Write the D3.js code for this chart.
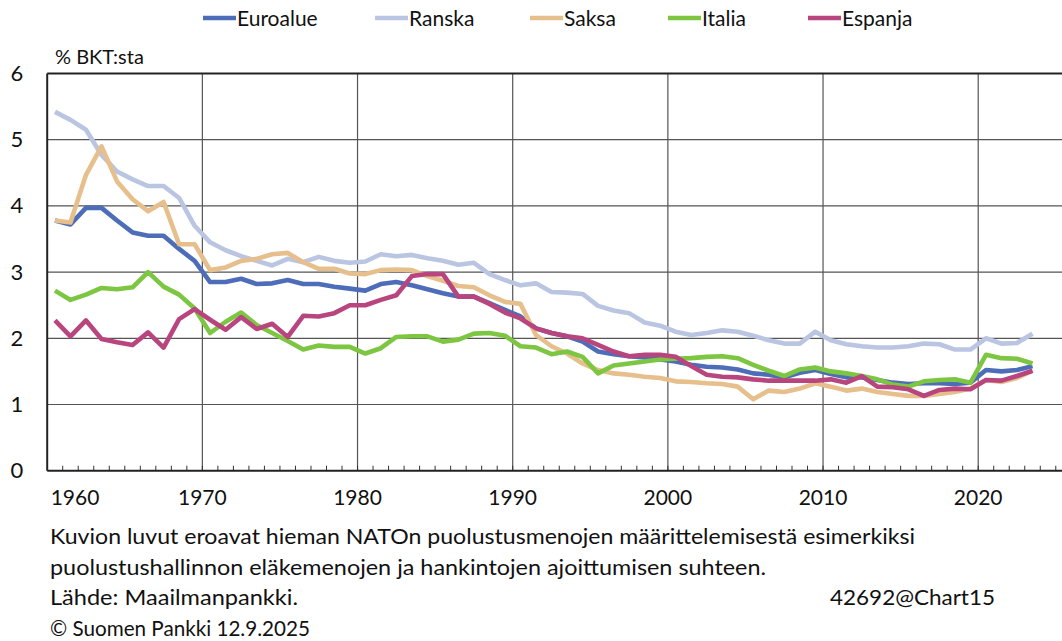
<!DOCTYPE html>
<html>
<head>
<meta charset="utf-8">
<script src="https://cdn.jsdelivr.net/npm/d3@7"></script>
<style>
  body { margin: 0; background: #fff; }
  text { font-family: Lato, "Open Sans", sans-serif; fill: #111; }
</style>
</head>
<body>
<script>
let width = 1062;
let height = 641;

let firstYear = 1960;
let seriesNames = ["Euroalue", "Ranska", "Saksa", "Italia", "Espanja"];
let seriesColors = ["#4e6db8", "#bac5e2", "#e6bf8c", "#7dc642", "#b8457d"];

let euroalue = [3.78, 3.72, 3.97, 3.97, 3.78, 3.6, 3.55, 3.55, 3.35, 3.17,
  2.85, 2.85, 2.9, 2.82, 2.83, 2.88, 2.82, 2.82, 2.78, 2.75,
  2.72, 2.82, 2.85, 2.8, 2.74, 2.68, 2.63, 2.63, 2.53, 2.43,
  2.33, 2.15, 2.08, 2.03, 1.95, 1.8, 1.76, 1.73, 1.71, 1.68,
  1.65, 1.6, 1.57, 1.56, 1.53, 1.47, 1.45, 1.41, 1.48, 1.52,
  1.46, 1.41, 1.41, 1.37, 1.33, 1.31, 1.32, 1.32, 1.31, 1.33,
  1.52, 1.5, 1.52, 1.58];
let ranska = [5.42, 5.3, 5.15, 4.77, 4.52, 4.4, 4.3, 4.3, 4.12, 3.7,
  3.45, 3.33, 3.24, 3.17, 3.1, 3.2, 3.15, 3.23, 3.17, 3.14,
  3.16, 3.27, 3.24, 3.26, 3.21, 3.17, 3.11, 3.14, 2.97, 2.88,
  2.8, 2.83, 2.7, 2.69, 2.67, 2.49, 2.42, 2.38, 2.24, 2.19,
  2.1, 2.05, 2.08, 2.12, 2.1, 2.04, 1.97, 1.92, 1.92, 2.1,
  1.97, 1.91, 1.88, 1.86, 1.86, 1.88, 1.92, 1.91, 1.83, 1.83,
  2.0, 1.92, 1.93, 2.07];
let saksa = [3.78, 3.75, 4.47, 4.9, 4.37, 4.1, 3.92, 4.06, 3.42, 3.42,
  3.03, 3.07, 3.17, 3.2, 3.27, 3.29, 3.15, 3.05, 3.05, 2.98,
  2.97, 3.03, 3.04, 3.03, 2.94, 2.87, 2.79, 2.77, 2.65, 2.55,
  2.52, 2.05, 1.88, 1.77, 1.62, 1.52, 1.47, 1.45, 1.42, 1.4,
  1.35, 1.34, 1.32, 1.31, 1.27, 1.08, 1.21, 1.19, 1.24, 1.32,
  1.27, 1.21, 1.24, 1.19, 1.16, 1.13, 1.13, 1.16, 1.19, 1.24,
  1.37, 1.34, 1.4, 1.51];
let italia = [2.72, 2.58, 2.66, 2.76, 2.74, 2.77, 3.0, 2.78, 2.66, 2.45,
  2.08, 2.25, 2.39, 2.2, 2.08, 1.96, 1.83, 1.89, 1.87, 1.87,
  1.77, 1.85, 2.02, 2.03, 2.03, 1.95, 1.98, 2.07, 2.08, 2.04,
  1.88, 1.86, 1.76, 1.8, 1.72, 1.47, 1.59, 1.62, 1.65, 1.68,
  1.69, 1.7, 1.72, 1.73, 1.7, 1.6, 1.51, 1.43, 1.53, 1.56,
  1.5, 1.47, 1.43, 1.38, 1.3, 1.27, 1.35, 1.37, 1.38, 1.33,
  1.75, 1.7, 1.69, 1.62];
let espanja = [2.27, 2.03, 2.27, 1.99, 1.94, 1.9, 2.09, 1.86, 2.29, 2.44,
  2.28, 2.13, 2.32, 2.14, 2.22, 2.02, 2.34, 2.33, 2.38, 2.5,
  2.5, 2.58, 2.65, 2.94, 2.97, 2.97, 2.63, 2.63, 2.52, 2.39,
  2.3, 2.15, 2.08, 2.03, 2.0, 1.9, 1.8, 1.73, 1.75, 1.75,
  1.72, 1.58, 1.45, 1.42, 1.41, 1.38, 1.36, 1.36, 1.36, 1.36,
  1.38, 1.33, 1.43, 1.27, 1.26, 1.23, 1.13, 1.22, 1.24, 1.23,
  1.37, 1.36, 1.43, 1.51];
let seriesValues = [euroalue, ranska, saksa, italia, espanja];

let yTicks = [0, 1, 2, 3, 4, 5, 6];
let xLabels = [1960, 1970, 1980, 1990, 2000, 2010, 2020];
let unitLabel = "% BKT:sta";
let noteLines = [
  "Kuvion luvut eroavat hieman NATOn puolustusmenojen määrittelemisestä esimerkiksi",
  "puolustushallinnon eläkemenojen ja hankintojen ajoittumisen suhteen.",
  "Lähde: Maailmanpankki.",
  "© Suomen Pankki 12.9.2025"
];
// widths of the note lines as they appear in the original
let noteWidths = [865, 716, 248, 260];
let chartCode = "42692@Chart15";

let plotLeft = 47.2;
let plotRight = 1062;
let plotTop = 73.5;
let plotBottom = 470.7;
let lineWidth = 4.6;
let gridColor = "#555";

let svg = d3.select("body").append("svg")
  .attr("width", width)
  .attr("height", height);

let x = d3.scaleLinear().domain([1960, 2025.4]).range([plotLeft, plotRight]);
let y = d3.scaleLinear().domain([0, 6]).range([plotBottom, plotTop]);

// horizontal gridlines
svg.append("g")
  .selectAll("line")
  .data(yTicks.filter(d => d > 0 && d < 6))
  .enter()
  .append("line")
  .attr("x1", plotLeft)
  .attr("x2", plotRight)
  .attr("y1", d => y(d))
  .attr("y2", d => y(d))
  .attr("stroke", gridColor)
  .attr("stroke-width", 1.2);

// vertical gridlines at decades
svg.append("g")
  .selectAll("line")
  .data(xLabels.slice(1))
  .enter()
  .append("line")
  .attr("x1", d => x(d))
  .attr("x2", d => x(d))
  .attr("y1", plotTop)
  .attr("y2", plotBottom)
  .attr("stroke", gridColor)
  .attr("stroke-width", 1.2);

// yearly minor ticks, pointing up
let years = d3.range(1961, 2026);
svg.append("g")
  .selectAll("line")
  .data(years)
  .enter()
  .append("line")
  .attr("x1", d => x(d))
  .attr("x2", d => x(d))
  .attr("y1", plotBottom)
  .attr("y2", plotBottom - 5)
  .attr("stroke", "#333")
  .attr("stroke-width", 1);

// frame: top, left, bottom
svg.append("line")
  .attr("x1", plotLeft).attr("x2", plotRight)
  .attr("y1", plotTop).attr("y2", plotTop)
  .attr("stroke", "#222").attr("stroke-width", 2);
svg.append("line")
  .attr("x1", plotLeft).attr("x2", plotLeft)
  .attr("y1", plotTop).attr("y2", plotBottom)
  .attr("stroke", "#222").attr("stroke-width", 2);
svg.append("line")
  .attr("x1", plotLeft).attr("x2", plotRight)
  .attr("y1", plotBottom).attr("y2", plotBottom)
  .attr("stroke", "#222").attr("stroke-width", 2);

// series lines
let line = d3.line()
  .x((d, i) => x(firstYear + i + 0.5))
  .y(d => y(d));

svg.append("g")
  .selectAll("path")
  .data(seriesValues)
  .enter()
  .append("path")
  .attr("d", line)
  .attr("fill", "none")
  .attr("stroke", (d, i) => seriesColors[i])
  .attr("stroke-width", lineWidth)
  .attr("stroke-linejoin", "round");

// y tick labels
svg.append("g")
  .selectAll("text")
  .data(yTicks)
  .enter()
  .append("text")
  .attr("x", 17)
  .attr("y", d => y(d) + 7.5)
  .attr("text-anchor", "middle")
  .style("font-size", "22px")
  .text(d => d);

// x labels
svg.append("g")
  .selectAll("text")
  .data(xLabels)
  .enter()
  .append("text")
  .attr("x", d => (d === 1960 ? 75 : x(d)))
  .attr("y", 505)
  .attr("text-anchor", "middle")
  .style("font-size", "21px")
  .text(d => d);

svg.append("text")
  .attr("x", 55)
  .attr("y", 64)
  .style("font-size", "20px")
  .text(unitLabel);

// legend
let legendX = [203, 375, 530, 668, 808];
let legend = svg.append("g")
  .selectAll("g")
  .data(seriesNames)
  .enter()
  .append("g")
  .attr("transform", (d, i) => "translate(" + legendX[i] + ",18)");
legend.append("line")
  .attr("x1", 0).attr("x2", 33)
  .attr("y1", 0).attr("y2", 0)
  .attr("stroke", (d, i) => seriesColors[i])
  .attr("stroke-width", lineWidth);
legend.append("text")
  .attr("x", 34)
  .attr("y", 7.5)
  .style("font-size", "21px")
  .text(d => d);

// notes
svg.append("g")
  .selectAll("text")
  .data(noteLines)
  .enter()
  .append("text")
  .attr("x", 50)
  .attr("y", (d, i) => 544 + i * 30.5)
  .attr("textLength", (d, i) => noteWidths[i])
  .attr("lengthAdjust", "spacingAndGlyphs")
  .style("font-size", "21px")
  .text(d => d);

svg.append("text")
  .attr("x", 830)
  .attr("y", 605)
  .attr("textLength", 165)
  .attr("lengthAdjust", "spacingAndGlyphs")
  .style("font-size", "21px")
  .text(chartCode);
</script>
</body>
</html>
